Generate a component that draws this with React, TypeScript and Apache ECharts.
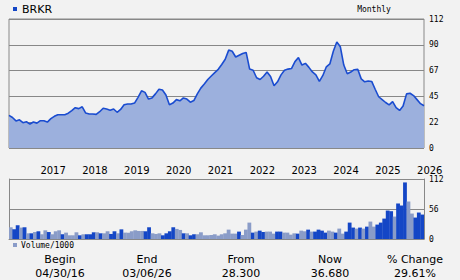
import React, { useEffect, useRef } from "react";
import * as echarts from "echarts";

const months: string[] = [];
for (let k = 0; k < 120; k++) {
  const m = (3 + k) % 12; // Apr 2016 start (0-based month 3)
  const y = 2016 + Math.floor((3 + k) / 12);
  months.push(`${y}-${String(m + 1).padStart(2, "0")}`);
}

const prices = [
  28.3, 26.5, 23.5, 24.5, 22.0, 22.8, 20.8, 22.6, 21.6, 23.7, 23.7, 22.5,
  25.5, 27.5, 28.9, 28.9, 28.9, 30.2, 32.5, 35.0, 34.2, 35.8, 30.3, 29.5,
  29.5, 29.2, 31.5, 34.5, 33.8, 32.8, 33.9, 31.0, 33.5, 37.5, 38.2, 38.2,
  39.0, 44.0, 49.7, 48.3, 42.5, 43.5, 47.0, 51.0, 50.3, 46.0, 37.5, 39.0,
  42.0, 41.0, 43.5, 42.5, 39.8, 41.2, 47.0, 52.0, 55.5, 59.5, 62.5, 65.5,
  68.3, 72.5, 77.0, 85.0, 84.0, 79.0, 80.5, 82.0, 83.0, 68.5, 67.5, 61.0,
  59.5, 62.3, 66.0, 62.0, 54.0, 57.5, 63.5, 67.5, 68.5, 69.0, 75.0, 78.5,
  72.0, 73.5, 70.0, 66.0, 63.5, 57.8, 63.0, 70.5, 73.0, 84.0, 92.0, 88.0,
  72.0, 64.5, 66.0, 68.0, 68.3, 60.0, 57.5, 58.2, 57.8, 51.0, 44.5, 42.0,
  39.5, 37.5, 40.3, 35.0, 32.6, 36.5, 47.0, 47.5, 45.5, 42.0, 38.5, 36.68,
];

const volumes = [
  21.9, 18, 25.6, 21.3, 21.9, 10.6, 10.6, 13, 14.4, 8.8, 16.2, 13,
  8.8, 14.4, 16.2, 8.8, 11.9, 6.9, 6.9, 12.5, 6.9, 8.8, 8.8, 8.8,
  12.5, 12.5, 10.6, 10.6, 14.4, 9.4, 14.4, 10.6, 18, 11.9, 11.9, 14.4,
  16.2, 15, 15, 14.4, 21.9, 10.6, 9.4, 10.6, 6.9, 10.6, 14.4, 21.9,
  18.8, 16.9, 10.6, 10.6, 6.9, 8.8, 8.8, 12.5, 6.9, 6.9, 7.5, 8.8,
  6.3, 8.8, 10.6, 17.5, 10, 10, 13.8, 7.5, 17.5, 30.6, 11.9, 13.8,
  15.6, 13.1, 13.8, 13.8, 10, 13.8, 13.8, 11.9, 11.9, 8.1, 10.6, 10,
  15.6, 14.4, 17.5, 13.8, 13.8, 17.5, 15.6, 11.9, 15.6, 13.8, 11.9, 19.4,
  10, 13.8, 30.6, 21.3, 19.4, 21.3, 19.4, 23.1, 32.5, 23.1, 26.9, 30.6,
  38.1, 53.1, 51.9, 41.9, 66.3, 62.5, 105.6, 70, 47.5, 40, 49.4, 45.6,
];

// 1 = dark (up) bar, 0 = light bar
const volumeUp = [
  0, 1, 1, 0, 1, 0, 1, 0, 1, 0, 0, 1,
  0, 0, 0, 1, 0, 0, 0, 0, 1, 0, 1, 1,
  1, 0, 1, 0, 0, 1, 1, 0, 1, 0, 0, 0,
  0, 0, 0, 1, 1, 0, 0, 0, 1, 1, 1, 1,
  0, 0, 1, 0, 1, 1, 0, 0, 0, 0, 0, 0,
  0, 0, 0, 0, 0, 0, 1, 0, 0, 0, 1, 0,
  1, 1, 0, 0, 0, 1, 1, 0, 0, 0, 0, 1,
  0, 0, 1, 0, 1, 1, 1, 1, 0, 0, 1, 0,
  0, 1, 1, 1, 0, 1, 0, 1, 0, 0, 1, 1,
  1, 1, 1, 0, 1, 1, 1, 0, 0, 1, 1, 1,
];

const priceTicks = { min: 0, max: 112, interval: 22.4 };
const volumeTicks = { min: 0, max: 112, interval: 56 };

const ticker = "BRKR";
const period = "Monthly";
const volumeLabel = "Volume/1000";
const tableHeaders = ["Begin", "End", "From", "Now", "% Change"];
const tableValues = ["04/30/16", "03/06/26", "28.300", "36.680", "29.61%"];

const DARK = "#1446c6";
const LIGHT = "#8a9cc8";
const LINE = "#1a4cd0";
const AREA = "#9cb0dd";
const GRIDC = "#888888";
const BG = "#f2f2f2";
const MONO = "'DejaVu Sans Mono', monospace";
const SANS = "'DejaVu Sans', sans-serif";

export default function App() {
  const ref = useRef<HTMLDivElement>(null);
  useEffect(() => {
    if (!ref.current) return;
    const chart = echarts.init(ref.current, undefined, { renderer: "svg" });
    const colX = [60, 147, 241, 330, 415];
    const graphics: any[] = [
      { type: "rect", shape: { x: 13, y: 7, width: 4, height: 4 }, style: { fill: DARK } },
      { type: "text", x: 22, y: 9, style: { text: ticker, font: `11px ${SANS}`, fill: "#000", textVerticalAlign: "middle" } },
      { type: "text", x: 374, y: 9, style: { text: period, font: `8px ${MONO}`, fill: "#000", textAlign: "center", textVerticalAlign: "middle" } },
      { type: "rect", shape: { x: 13, y: 243, width: 4, height: 4 }, style: { fill: LIGHT } },
      { type: "text", x: 21, y: 245.5, style: { text: volumeLabel, font: `8px ${MONO}`, fill: "#000", textVerticalAlign: "middle" } },
    ];
    tableHeaders.forEach((h, k) => {
      graphics.push({ type: "text", x: colX[k], y: 259, style: { text: h, font: `11px ${SANS}`, fill: "#000", textAlign: "center", textVerticalAlign: "middle" } });
      graphics.push({ type: "text", x: colX[k], y: 273, style: { text: tableValues[k], font: `11px ${SANS}`, fill: "#000", textAlign: "center", textVerticalAlign: "middle" } });
    });

    chart.setOption({
      animation: false,
      backgroundColor: BG,
      grid: [
        { left: 9, top: 19, width: 415, height: 129, show: true, borderColor: GRIDC, borderWidth: 1, backgroundColor: "transparent" },
        { left: 9, top: 179, width: 415, height: 60 },
      ],
      xAxis: [
        {
          type: "category", gridIndex: 0, data: months, boundaryGap: false,
          axisLine: { show: false }, axisTick: { show: false }, splitLine: { show: false },
          axisLabel: {
            interval: (_i: number, v: string) => v.endsWith("-01"),
            formatter: (v: string) => v.slice(0, 4),
            align: "left", margin: 17, fontFamily: SANS, fontSize: 10, color: "#000",
          },
        },
        {
          type: "category", gridIndex: 1, data: months, position: "top",
          axisLine: { show: true, lineStyle: { color: GRIDC, width: 1 } },
          axisTick: { show: false }, axisLabel: { show: false }, splitLine: { show: false },
        },
      ],
      yAxis: [
        {
          type: "value", gridIndex: 0, position: "right", ...priceTicks,
          axisLine: { show: false }, axisTick: { show: false },
          splitLine: { show: true, lineStyle: { color: GRIDC, width: 1 } },
          axisLabel: { formatter: (v: number) => String(Math.round(v)), margin: 5, fontFamily: MONO, fontSize: 8, color: "#000" },
        },
        {
          type: "value", gridIndex: 1, position: "right", ...volumeTicks,
          axisLine: { show: true, lineStyle: { color: GRIDC, width: 1 } }, axisTick: { show: false },
          splitLine: { show: true, lineStyle: { color: GRIDC, width: 1 } },
          axisLabel: { margin: 5, fontFamily: MONO, fontSize: 8, color: "#000" },
        },
        {
          type: "value", gridIndex: 1, position: "left", ...volumeTicks,
          axisLine: { show: true, lineStyle: { color: GRIDC, width: 1 } }, axisTick: { show: false },
          splitLine: { show: false }, axisLabel: { show: false },
        },
      ],
      series: [
        {
          type: "line", xAxisIndex: 0, yAxisIndex: 0, data: prices, symbol: "none",
          lineStyle: { color: LINE, width: 1.6 }, areaStyle: { color: AREA, opacity: 1 },
        },
        {
          type: "bar", xAxisIndex: 1, yAxisIndex: 1, barWidth: 3.8,
          data: volumes.map((v, k) => ({ value: v, itemStyle: { color: volumeUp[k] ? DARK : LIGHT } })),
        },
      ],
      graphic: graphics,
    });
    return () => chart.dispose();
  }, []);
  return <div ref={ref} style={{ position: "fixed", left: 0, top: 0, width: 460, height: 280 }} />;
}
